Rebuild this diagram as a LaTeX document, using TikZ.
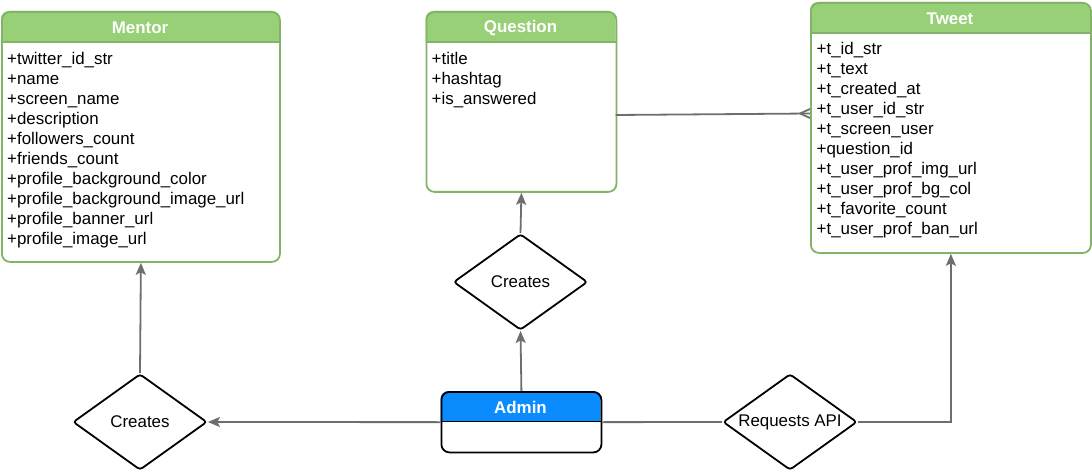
\documentclass[tikz,border=0pt]{standalone}
\usepackage{fontspec}
\setmainfont{Liberation Sans}
\usetikzlibrary{shapes.geometric,arrows.meta}
\definecolor{hdr}{HTML}{97D077}
\definecolor{hdrline}{HTML}{82B366}
\definecolor{adminblue}{HTML}{0A8CFF}
\definecolor{conncol}{HTML}{6E6E6E}
\tikzset{
 conn/.style={draw=conncol, line width=1.8pt},
 arr/.style={conn, -{Stealth[length=12pt,width=10pt,inset=2.5pt]}},
 field/.style={inner sep=0pt, anchor=base west, font=\fontsize{16.9}{20}\selectfont},
 title/.style={text=white, font=\fontsize{16.9}{20}\selectfont\bfseries, inner sep=0pt},
 rel/.style={diamond, draw=black, line width=1.8pt, rounded corners=3pt, minimum width=134pt, minimum height=96pt, inner sep=0pt, fill=white, font=\fontsize{16.9}{20}\selectfont},
 box/.style={line width=1.8pt, rounded corners=8pt, inner sep=0pt, anchor=north west},
}
\newcommand\entitybox[7]{%
 \begin{scope}
 \clip (#2,#3) rectangle (#4,#6);
 \fill[hdr, rounded corners=8pt] (#2,#3) rectangle (#4,#5);
 \end{scope}
 \node[box, draw=hdrline, minimum width={#4pt-#2pt}, minimum height={#5pt-#3pt}] (#1) at (#2,#3) {};
 \draw[hdrline, line width=1.8pt] (#2,#6) -- (#4,#6);
 \node[title] (#1-title) at ({(#2+#4)/2},{(#3+#6)/2+1.5}) {#7};
}
\begin{document}
\begin{tikzpicture}[x=1pt,y=-1pt]
\useasboundingbox (0,0) rectangle (1092,473);

\entitybox{mentor}{1}{11}{279}{261}{42}{Mentor}
\foreach \t [count=\i] in {+twitter\_id\_str,+name,+screen\_name,+description,+followers\_count,+friends\_count,+profile\_background\_color,+profile\_background\_image\_url,+profile\_banner\_url,+profile\_image\_url}
 \node[field] (mentor-f\i) at (7,{44.5+20*\i}) {\t};

\entitybox{question}{425.5}{11}{615.5}{191}{42}{Question}
\foreach \t [count=\i] in {+title,+hashtag,+is\_answered}
 \node[field] (question-f\i) at (431.5,{44.5+20*\i}) {\t};

\entitybox{tweet}{810}{2}{1090}{252}{33}{Tweet}
\foreach \t [count=\i] in {+t\_id\_str,+t\_text,+t\_created\_at,+t\_user\_id\_str,+t\_screen\_user,+question\_id,+t\_user\_prof\_img\_url,+t\_user\_prof\_bg\_col,+t\_favorite\_count,+t\_user\_prof\_ban\_url}
 \node[field] (tweet-f\i) at (816.5,{34.5+20*\i}) {\t};

% Admin
\begin{scope}
 \clip (440.5,391) rectangle (600.5,421.5);
 \fill[adminblue, rounded corners=8pt] (440.5,391) rectangle (600.5,451.5);
\end{scope}
\node[box, draw=black, minimum width=160pt, minimum height=60.5pt] (admin) at (440.5,391) {};
\draw[black, line width=1.8pt] (440.5,421.5) -- (600.5,421.5);
\node[title] (admin-title) at (520.5,407.5) {Admin};

% relationships
\node[rel] (cl) at (140,422) {\makebox[0pt]{Creates}};
\node[rel] (cq) at (520.5,282) {\makebox[0pt]{Creates}};
\node[rel] (ra) at (790,422) {\makebox[0pt]{Requests API}};

% connectors
\draw[arr] (admin.west) -- (cl.east);
\draw[conn] (admin.east) -- (ra.west);
\draw[arr] (ra.east) -| (tweet.south);
\draw[arr] (admin.north) -- (cq.south);
\draw[arr] (cq.north) -- (question.south);
\draw[arr] (cl.north) -- (mentor.south);

\coordinate (qtA) at (615.5,115);
\coordinate (qtB) at (810,113.5);
\coordinate (crow) at (800,113.5);
\coordinate (crowU) at (810,109);
\coordinate (crowD) at (810,118);
\draw[conn] (qtA) -- (qtB);
\draw[conn] (crow) -- (crowU) (crow) -- (crowD);
\end{tikzpicture}
\end{document}
